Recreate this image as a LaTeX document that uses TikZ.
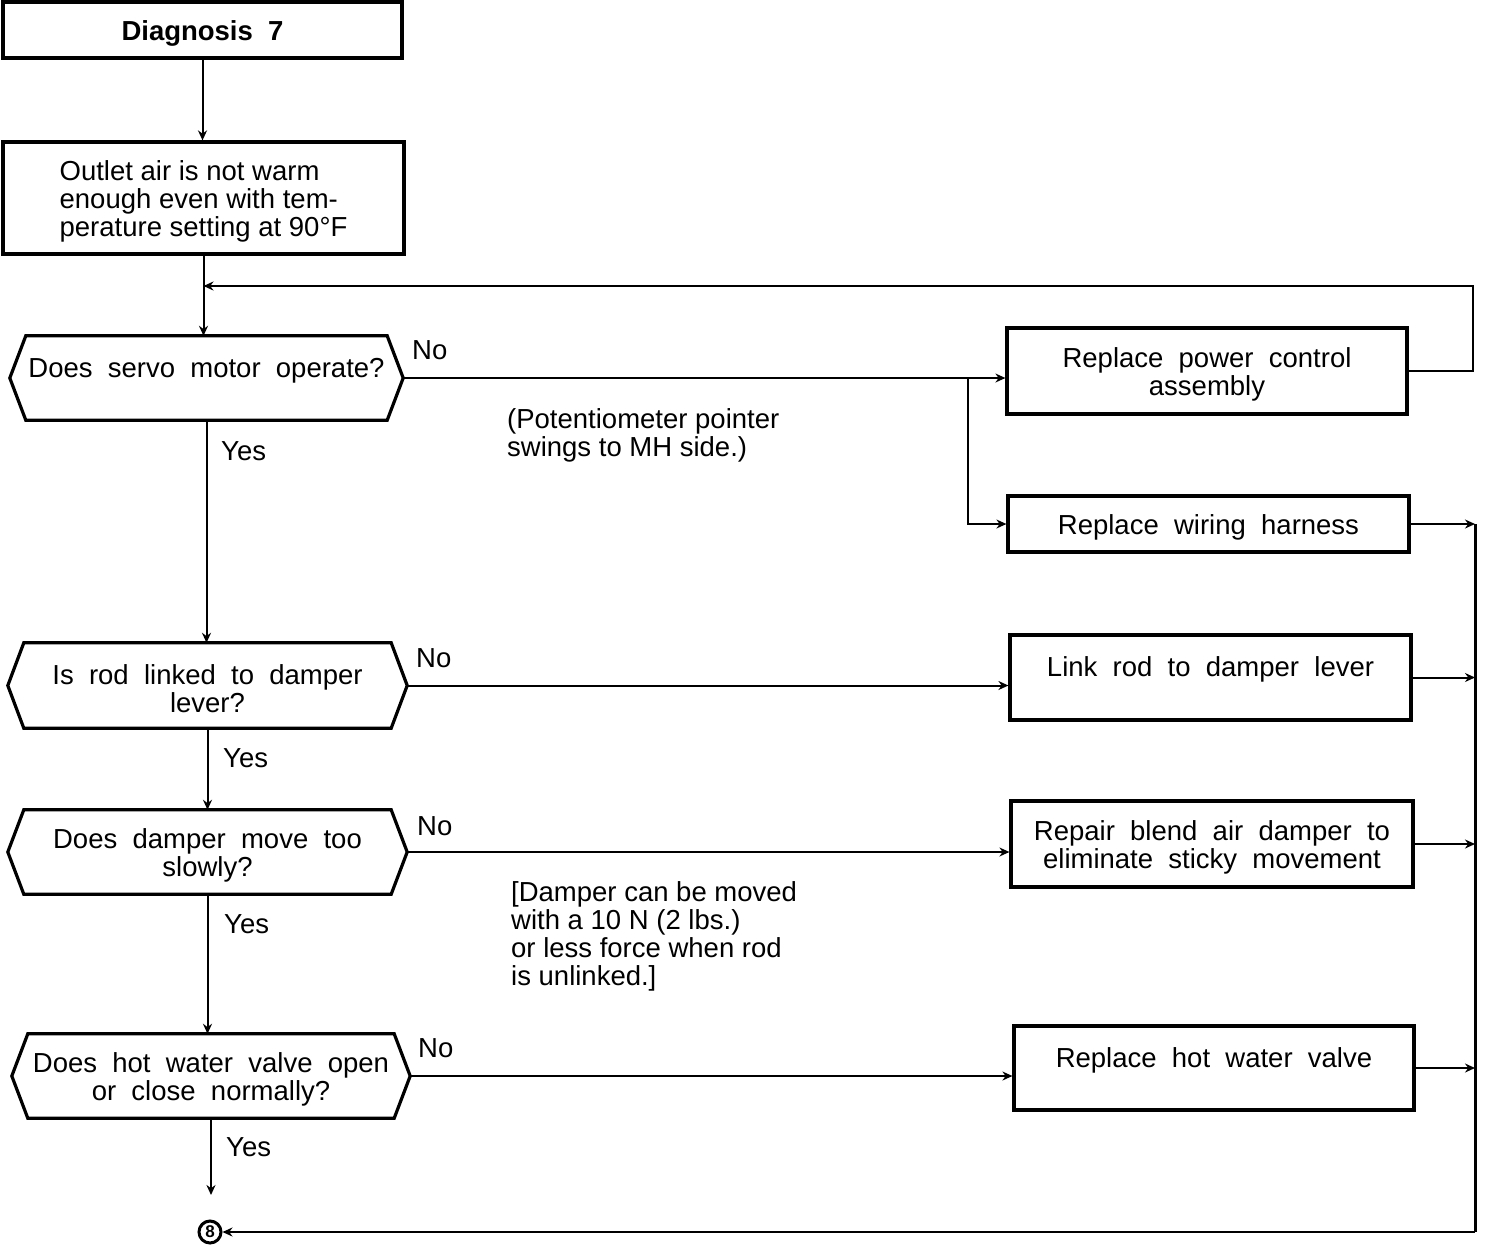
\documentclass[tikz,border=0pt]{standalone}
\usepackage{fontspec}
\setmainfont{Liberation Sans}
\newfontfamily\widefont[WordSpace=2.0]{Liberation Sans}
\usetikzlibrary{arrows.meta}
\newcommand\fsz{\fontsize{27.5}{28}\selectfont}
\newcommand\tp{\rule{0pt}{26pt}}
\newcommand\hexo[1]{\draw[hexline] (#1.west) -- ([xshift=16pt]#1.north west) -- ([xshift=-16pt]#1.north east) -- (#1.east) -- ([xshift=-16pt]#1.south east) -- ([xshift=16pt]#1.south west) -- cycle;}
\tikzset{
  box/.style={draw, line width=3.2pt, inner sep=0pt, align=center, font=\widefont\fsz},
  hexnode/.style={inner sep=0pt, align=center, font=\widefont\fsz},
  hexline/.style={line width=3.2pt, line join=miter},
  conn/.style={line width=2pt, -{Stealth[length=10pt,width=9pt]}},
  collector/.style={line width=3pt},
  lbl/.style={inner sep=0pt, anchor=west, font=\fsz},
  note/.style={inner sep=0pt, anchor=west, align=left, font=\fsz},
  circ/.style={circle, draw, line width=3pt, inner sep=0pt, minimum size=22pt, font=\fontsize{17}{17}\selectfont\bfseries}
}
\begin{document}
\begin{tikzpicture}[x=1pt,y=-1pt]
\useasboundingbox (0,0) rectangle (1504,1248);
% left column
\node[box, minimum width=399pt, minimum height=56pt, font=\widefont\fsz\bfseries] (d7) at (202.5,30) {\tp Diagnosis 7};
\node[box, minimum width=401pt, minimum height=112pt, align=left, font=\fsz] (oa) at (203.5,198) {\tp Outlet air is not warm\\enough even with tem-\\perature setting at 90°F};
\node[hexnode, minimum width=393pt, minimum height=84pt] (h1) at (206.5,378) {\tp Does servo motor operate?\\\mbox{}};
\node[hexnode, minimum width=399pt, minimum height=85pt] (h2) at (207.5,685.5) {\tp Is rod linked to damper\\lever?};
\node[hexnode, minimum width=399pt, minimum height=84pt] (h3) at (207.5,852) {\tp Does damper move too\\slowly?};
\node[hexnode, minimum width=398pt, minimum height=84pt] (h4) at (211,1076) {\tp Does hot water valve open\\or close normally?};
\hexo{h1}\hexo{h2}\hexo{h3}\hexo{h4}
\node[circ] (c8) at (210,1232) {8};
% right column
\node[box, minimum width=400pt, minimum height=86pt] (pc) at (1207,371) {\tp Replace power control\\assembly};
\node[box, minimum width=401pt, minimum height=56pt] (wh) at (1208.5,524) {\tp Replace wiring harness};
\node[box, minimum width=401pt, minimum height=85pt] (lr) at (1210.5,677.5) {\tp Link rod to damper lever\\\mbox{}};
\node[box, minimum width=402pt, minimum height=86pt] (rb) at (1212,844) {\tp Repair blend air damper to\\eliminate sticky movement};
\node[box, minimum width=400pt, minimum height=84pt] (hw) at (1214,1068) {\tp Replace hot water valve\\\mbox{}};
% labels
\node[lbl] (no1) at (412,350) {No};
\node[lbl] (no2) at (416,658) {No};
\node[lbl] (no3) at (417,826) {No};
\node[lbl] (no4) at (418,1048) {No};
\node[lbl] (y1) at (221,451) {Yes};
\node[lbl] (y2) at (223,758) {Yes};
\node[lbl] (y3) at (224,924) {Yes};
\node[lbl] (y4) at (226,1147) {Yes};
\node[note] (np) at (507,435) {(Potentiometer pointer\\swings to MH side.)};
\node[note] (nd) at (511,936) {[Damper can be moved\\with a 10 N (2 lbs.)\\or less force when rod\\is unlinked.]};
% coordinates
\coordinate (loopR) at (1473,286);
\coordinate (loopL) at (203.5,286);
\coordinate (br) at (968,378);
\coordinate (colT) at (1475,524);
\coordinate (colB) at (1475,1232);
\coordinate (endY) at (211,1195);
% connectors
\draw[conn] (d7.south) -- (d7.south |- oa.north);
\draw[conn] (oa.south) -- (oa.south |- h1.north);
\draw[conn] (pc.east) -| (loopR) -- (loopL);
\draw[conn] (h1.east) -- (h1.east -| pc.west);
\draw[conn] (br) |- (wh.west);
\draw[conn] (h1.south) -- (h1.south |- h2.north);
\draw[conn] (h2.south) -- (h2.south |- h3.north);
\draw[conn] (h3.south) -- (h3.south |- h4.north);
\draw[conn] (h4.south) -- (endY);
\draw[conn] (h2.east) -- (h2.east -| lr.west);
\draw[conn] (h3.east) -- (h3.east -| rb.west);
\draw[conn] (h4.east) -- (h4.east -| hw.west);
\draw[conn] (wh.east) -- (colT);
\draw[conn] (lr.east) -- (lr.east -| colT);
\draw[conn] (rb.east) -- (rb.east -| colT);
\draw[conn] (hw.east) -- (hw.east -| colT);
\draw[collector] (colT) -- (colB);
\draw[conn] (colB) -- (c8.east);
\end{tikzpicture}
\end{document}
